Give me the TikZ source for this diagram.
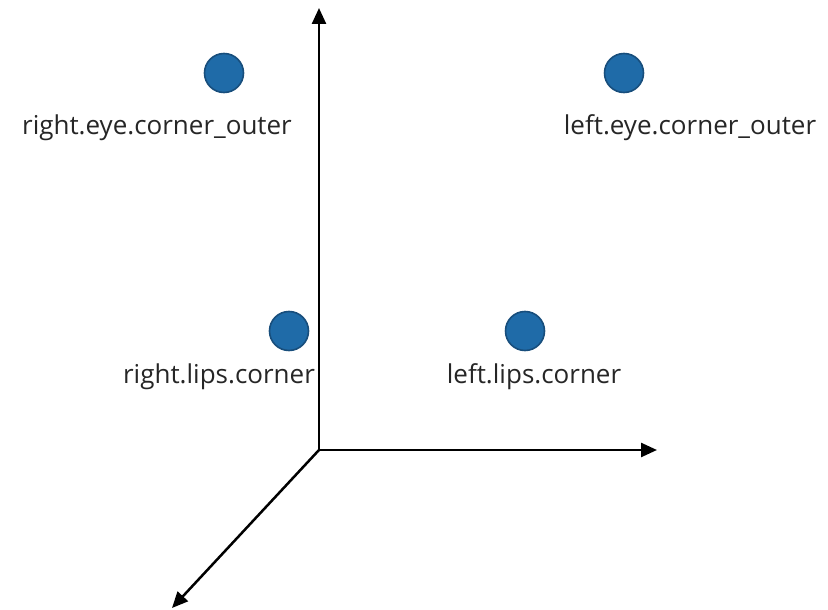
\documentclass[tikz,border=0pt]{standalone}
\usepackage{fontspec}
\setmainfont{Open Sans}
\usetikzlibrary{arrows.meta}
\definecolor{dotfill}{HTML}{1F6BA8}
\definecolor{dotline}{HTML}{184E7C}
\definecolor{labtext}{HTML}{262626}
\begin{document}
\begin{tikzpicture}[x=1pt,y=-1pt,
  axis/.style={line width=2.5pt,-{Triangle[length=16pt,width=14pt]}},
  dot/.style={circle,fill=dotfill,draw=dotline,line width=1.6pt,minimum size=39pt,inner sep=0pt},
  lab/.style={font=\fontsize{26}{30}\selectfont,text=labtext,inner sep=0pt,anchor=center}]
\useasboundingbox (0,0) rectangle (828,610);
\coordinate (o) at (319,450);
\coordinate (ytip) at (319,8);
\coordinate (xtip) at (657,450);
\coordinate (ztip) at (172,608);
\draw[axis] (o) -- (ytip);
\draw[axis] (o) -- (xtip);
\draw[axis] (o) -- (ztip);
\node[dot] (reo) at (224,73) {};
\node[dot] (leo) at (624,73) {};
\node[dot] (rlc) at (289,331) {};
\node[dot] (llc) at (525,331) {};
\node[lab] (reol) at (157,128) {right.eye.corner\_outer};
\node[lab] (leol) at (690,128) {left.eye.corner\_outer};
\node[lab] (rlcl) at (219,377) {right.lips.corner};
\node[lab] (llcl) at (534,377) {left.lips.corner};
\end{tikzpicture}
\end{document}
